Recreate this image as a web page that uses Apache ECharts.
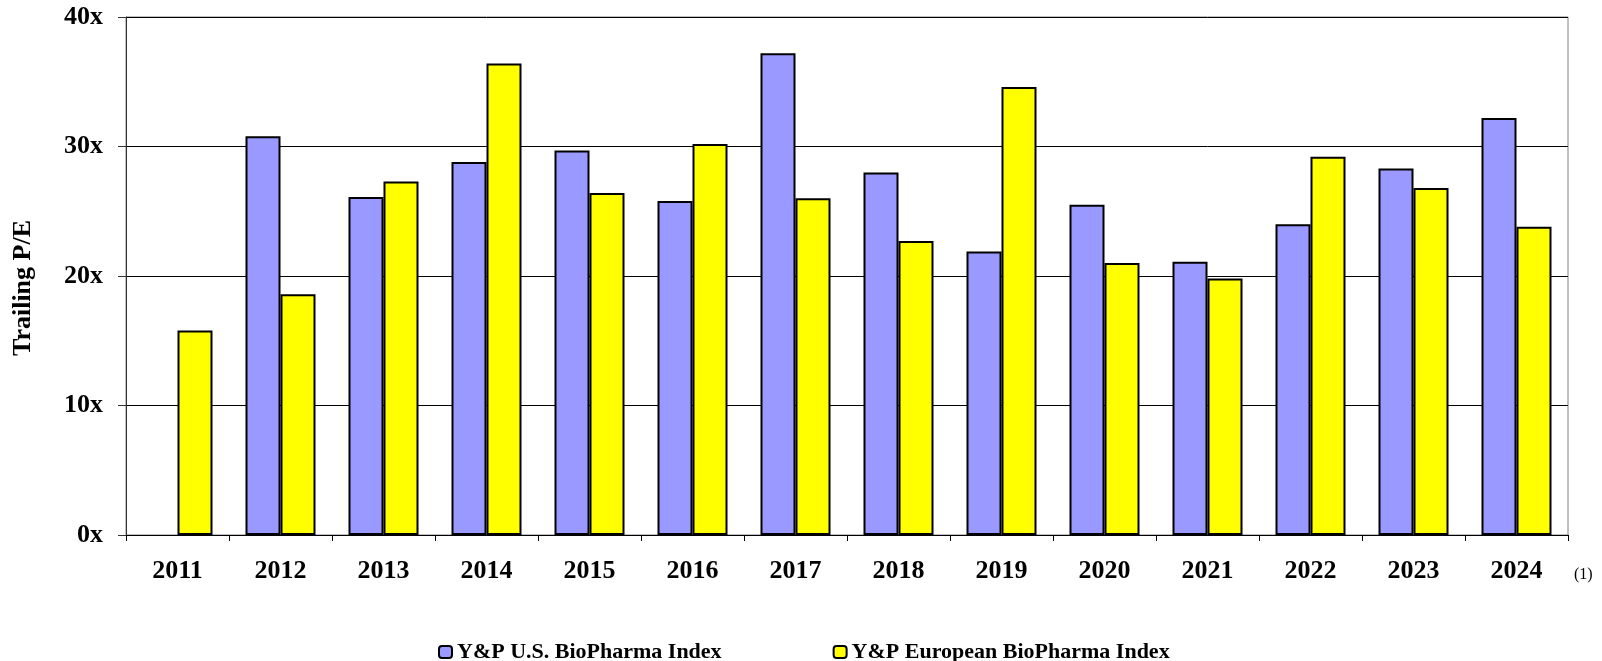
<!DOCTYPE html>
<html>
<head>
<meta charset="utf-8">
<style>
  html, body { margin: 0; padding: 0; background: #fff; }
  #chart { width: 1602px; height: 661px; }
</style>
<script src="https://cdn.jsdelivr.net/npm/echarts@6/dist/echarts.min.js"></script>
</head>
<body>
<div id="chart"></div>
<script>
  const years = ['2011', '2012', '2013', '2014', '2015', '2016', '2017', '2018', '2019', '2020', '2021', '2022', '2023', '2024']
  // trailing P/E
  const usIndex = [null, 30.8, 26.1, 28.8, 29.7, 25.8, 37.2, 28.0, 21.9, 25.5, 21.1, 24.0, 28.3, 32.2]
  const euIndex = [15.8, 18.6, 27.3, 36.4, 26.4, 30.2, 26.0, 22.7, 34.6, 21.0, 19.8, 29.2, 26.8, 23.8]
  const seriesNames = ['Y&P U.S. BioPharma Index', 'Y&P European BioPharma Index']

  const font = '"Liberation Serif", "Times New Roman", serif'

  const chart = echarts.init(document.getElementById('chart'))

  chart.setOption({
    animation: false,
    textStyle: { fontFamily: font },
    grid: {
      left: 126,
      right: 34,
      top: 17,
      bottom: 126,
      show: true,
      borderColor: '#808080',
      borderWidth: 1
    },
    legend: {
      data: seriesNames,
      left: 433,
      top: 636,
      itemGap: 111,
      itemWidth: 13,
      itemHeight: 12,
      textStyle: {
        fontFamily: font,
        fontWeight: 'bold',
        fontSize: 22,
        color: '#000'
      }
    },
    xAxis: {
      type: 'category',
      data: years,
      axisLine: { lineStyle: { color: '#000', width: 1 } },
      axisTick: { show: true, length: 6, lineStyle: { color: '#000' } },
      axisLabel: {
        margin: 23,
        fontFamily: font,
        fontWeight: 'bold',
        fontSize: 26,
        color: '#000'
      }
    },
    yAxis: {
      type: 'value',
      min: 0,
      max: 40,
      interval: 10,
      name: 'Trailing P/E',
      nameLocation: 'middle',
      nameGap: 90,
      nameTextStyle: {
        fontFamily: font,
        fontWeight: 'bold',
        fontSize: 26,
        color: '#000',
        padding: [0, 24, 0, 0]
      },
      axisLine: { show: true, lineStyle: { color: '#333', width: 1 } },
      axisTick: { show: true, length: 8, lineStyle: { color: '#333' } },
      splitLine: { lineStyle: { color: '#000', width: 1 } },
      axisLabel: {
        formatter: '{value}x',
        margin: 23,
        fontFamily: font,
        fontWeight: 'bold',
        fontSize: 26,
        color: '#000',
        padding: [4, 0, 0, 0]
      }
    },
    series: [
      {
        name: seriesNames[0],
        type: 'bar',
        data: usIndex,
        barWidth: 35,
        barGap: '0%',
        itemStyle: { color: '#9999FF', borderColor: '#000', borderWidth: 2 }
      },
      {
        name: seriesNames[1],
        type: 'bar',
        data: euIndex,
        barWidth: 35,
        barGap: '0%',
        itemStyle: { color: '#FFFF00', borderColor: '#000', borderWidth: 2 }
      }
    ],
    graphic: [
      {
        type: 'text',
        left: 1574,
        top: 567,
        style: {
          text: '(1)',
          font: '16px ' + font,
          fill: '#000'
        }
      }
    ]
  })
</script>
</body>
</html>
